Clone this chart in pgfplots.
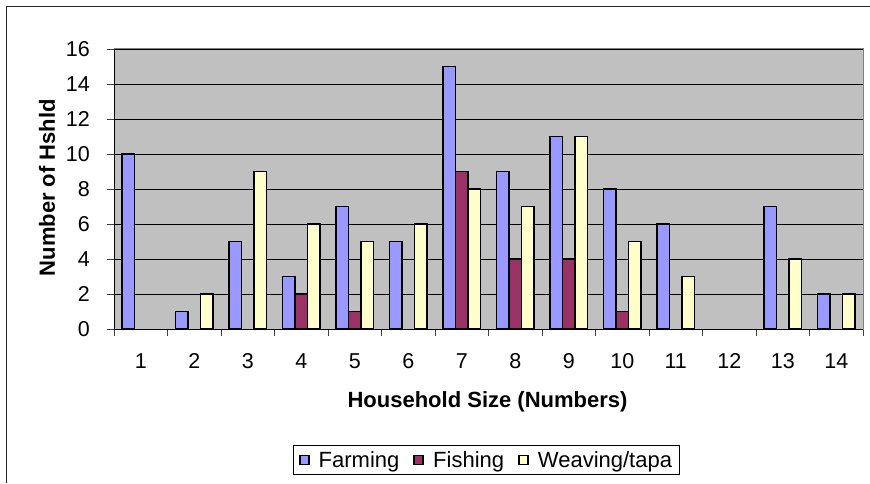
\documentclass[border=0pt]{standalone}
\usepackage{fontspec}
\setmainfont{Liberation Sans}
\usepackage{pgfplots}
\pgfplotsset{compat=1.18}
\definecolor{farm}{HTML}{9999FF}
\definecolor{fish}{HTML}{993366}
\definecolor{weave}{HTML}{FFFFCC}
\definecolor{plotbg}{HTML}{C0C0C0}
\begin{document}
\begin{tikzpicture}[x=1pt,y=1pt]
\path[use as bounding box] (0,0) rectangle (870,483);
\draw[line width=1.3pt, black!85] (6.5,0) -- (6.5,476.5) -- (870,476.5);
\begin{axis}[
  at={(114pt,154pt)}, anchor=south west,
  scale only axis, width=749pt, height=280pt,
  ybar=0pt, bar width=12.5pt,
  xmin=0.5, xmax=14.5, ymin=0, ymax=16,
  xtick={0.5,1.5,...,14.5}, xticklabels={},
  extra x ticks={1,2,...,14},
  extra x tick style={major tick length=0pt},
  ytick={0,2,...,16},
  major tick length=7pt,
  tick align=outside, tick pos=left,
  tick style={black!75, line width=0.9pt},
  ymajorgrids, major grid style={black, line width=0.8pt},
  axis background/.style={fill=plotbg},
  axis line style={draw=black!50, line width=1pt},
  /pgf/number format/assume math mode=true,
  tick label style={font=\fontsize{21.5}{24}\selectfont},
  xticklabel style={anchor=base, yshift=-39pt},
  yticklabel style={anchor=east, inner sep=0pt, xshift=-17pt},
  label style={font=\bfseries\fontsize{22}{26}\selectfont},
  xlabel={Household Size (Numbers)},
  ylabel={Number of Hshld},
  xlabel style={at={(axis description cs:0.4987,-0.282)}, anchor=base},
  ylabel style={at={(axis description cs:-0.0895,0.505)}, anchor=center},
  every axis plot/.append style={draw=black, line width=1.4pt},
  legend image code/.code={\draw[#1, draw=black, line width=1.6pt] (0pt,-4.5pt) rectangle (9pt,4.5pt); \path[draw=none,fill=none] (9pt,0pt) -- (17pt,0pt);},
  legend columns=3,
  legend style={at={(axis description cs:0.4973,-0.468)}, anchor=center,
    draw=black, line width=0.9pt, fill=white,
    inner xsep=5pt, inner ysep=4pt,
    font=\fontsize{22}{26}\selectfont,
    /tikz/every even column/.append style={column sep=12pt}},
]
\addplot[fill=farm] coordinates {(1,10)(2,1)(3,5)(4,3)(5,7)(6,5)(7,15)(8,9)(9,11)(10,8)(11,6)(13,7)(14,2)};
\addplot[fill=fish] coordinates {(4,2)(5,1)(7,9)(8,4)(9,4)(10,1)};
\addplot[fill=weave] coordinates {(2,2)(3,9)(4,6)(5,5)(6,6)(7,8)(8,7)(9,11)(10,5)(11,3)(13,4)(14,2)};
\legend{Farming,Fishing,Weaving/tapa}
\draw[black, line width=1pt] (rel axis cs:0,1) -- (rel axis cs:0,0) -- (rel axis cs:1,0);
\end{axis}
\end{tikzpicture}
\end{document}
